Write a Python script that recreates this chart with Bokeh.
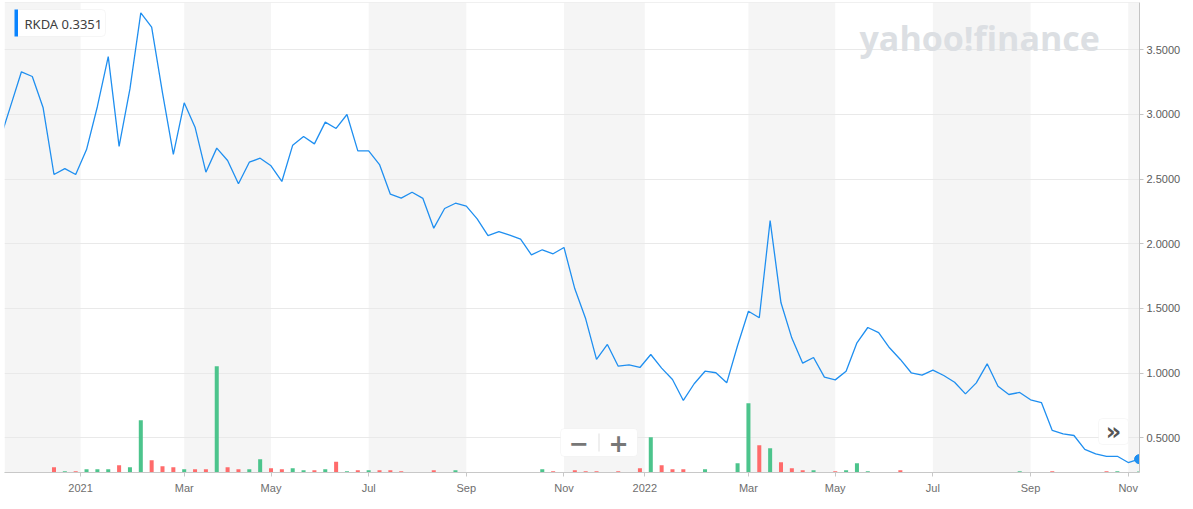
import numpy as np
import pandas as pd
from bokeh.plotting import figure
from bokeh.models import (Range1d, FixedTicker, BoxAnnotation, Label, Span,
                          NumeralTickFormatter, ColumnDataSource)
from bokeh.embed import file_html
from bokeh.resources import INLINE

# ---------------- data ----------------
symbol = "RKDA"
last_price_text = "0.3351"
watermark = "yahoo!finance"

# weekly bars (Monday dates)
dates = pd.date_range("2020-11-02", periods=106, freq="7D")

close = [
    2.80, 3.065, 3.330, 3.294, 3.052, 2.536, 2.582, 2.536, 2.729, 3.062,
    3.448, 2.753, 3.198, 3.786, 3.675, 3.168, 2.691, 3.090, 2.902, 2.554,
    2.740, 2.644, 2.464, 2.631, 2.662, 2.603, 2.482, 2.763, 2.830, 2.773,
    2.941, 2.892, 3.000, 2.719, 2.719, 2.613, 2.384, 2.353, 2.399, 2.351,
    2.121, 2.273, 2.314, 2.291, 2.193, 2.064, 2.095, 2.067, 2.036, 1.915,
    1.954, 1.923, 1.972, 1.652, 1.420, 1.106, 1.222, 1.054, 1.064, 1.044,
    1.144, 1.039, 0.951, 0.789, 0.918, 1.015, 1.003, 0.925, 1.214, 1.479,
    1.428, 2.180, 1.544, 1.271, 1.077, 1.121, 0.969, 0.948, 1.015, 1.235,
    1.353, 1.314, 1.196, 1.106, 1.003, 0.985, 1.023, 0.982, 0.930, 0.840,
    0.925, 1.072, 0.899, 0.835, 0.851, 0.794, 0.773, 0.557, 0.531, 0.518,
    0.410, 0.376, 0.356, 0.357, 0.309, 0.3351,
]

# weekly volume, thousands of shares
volume_k = [
    60, 80, 80, 80, 80, 800, 200, 200, 500, 500,
    500, 1100, 800, 7850, 1850, 950, 800, 500, 500, 500,
    15950, 800, 500, 500, 2000, 650, 500, 650, 350, 350,
    500, 1600, 200, 350, 350, 350, 350, 200, 80, 80,
    350, 80, 350, 80, 80, 80, 80, 80, 80, 80,
    500, 200, 80, 350, 200, 200, 80, 200, 80, 650,
    5300, 1100, 500, 500, 80, 500, 80, 80, 1400, 10400,
    4100, 3650, 1550, 650, 350, 350, 80, 200, 350, 1400,
    200, 80, 80, 350, 80, 80, 80, 80, 80, 80,
    80, 80, 80, 80, 200, 80, 80, 200, 80, 80,
    80, 80, 200, 200, 80, 149.39,
]

price_ticks = [0.5, 1.0, 1.5, 2.0, 2.5, 3.0, 3.5]

# ---------------- layout mapping ----------------
LEFT, TOP = 4, 2
FRAME_W, FRAME_H = 1135, 470
X_START, X_END = 0.4389, 105.04
Y_START, Y_END = 0.2318, 3.866
VOL_TOP = FRAME_H * 150.0


def px_x(px):
    return X_START + (px - LEFT) / FRAME_W * (X_END - X_START)


def px_y(py):
    return Y_END - (py - TOP) / FRAME_H * (Y_END - Y_START)


x = np.arange(len(dates))

GREEN = "#4cc48c"
RED = "#ff6b6b"
colors = [GREEN] + [GREEN if close[i] >= close[i - 1] else RED for i in range(1, len(close))]

src = ColumnDataSource(dict(x=x, close=close, vol=volume_k, color=colors))

# ---------------- ticks (bar containing 1st of odd months) ----------------
ticks, tick_months, overrides = [], [], {}
for i, d in enumerate(dates):
    for off in range(7):
        dd = d + pd.Timedelta(days=off)
        if dd.day == 1 and dd.month % 2 == 1:
            if dd.month == 1:
                t = round(i - 0.55, 2)
                overrides[t] = str(dd.year)
            else:
                t = int(i)
                overrides[t] = dd.strftime("%b")
            ticks.append(t)
            tick_months.append(dd.month)

# ---------------- figure ----------------
p = figure(frame_width=FRAME_W, frame_height=FRAME_H,
           x_range=Range1d(X_START, X_END), y_range=Range1d(Y_START, Y_END),
           y_axis_location="right", output_backend="svg", toolbar_location=None,
           min_border_left=LEFT, min_border_top=TOP, min_border_right=0, min_border_bottom=0,
           background_fill_color="white", border_fill_color="white")
p.outline_line_color = None
p.extra_y_ranges = {"vol": Range1d(0, VOL_TOP)}

# alternating two-month bands
band_edges = [X_START] + ticks + [X_END]
band_gray = [True] + [m in (3, 7, 11) for m in tick_months]
for a, b, g in zip(band_edges[:-1], band_edges[1:], band_gray):
    if g:
        p.add_layout(BoxAnnotation(left=a, right=b, fill_color="#f5f5f5", fill_alpha=1,
                                   line_color=None, level="image"))

p.add_layout(Span(location=Y_END, dimension="width", line_color="#e2e2e2", line_width=1))

# grid
p.xgrid.grid_line_color = None
p.ygrid.ticker = FixedTicker(ticks=price_ticks)
p.ygrid.grid_line_color = "#e9e9e9"

# y axis (right)
p.yaxis.ticker = FixedTicker(ticks=price_ticks)
p.yaxis.formatter = NumeralTickFormatter(format="0.0000")
p.yaxis.major_label_text_font = "Liberation Sans"
p.yaxis.major_label_text_font_size = "11px"
p.yaxis.major_label_text_color = "#5c5c5c"
p.yaxis.axis_line_color = "#c4c4c4"
p.yaxis.major_tick_line_color = "#c4c4c4"
p.yaxis.major_tick_out = 4
p.yaxis.major_tick_in = 0
p.yaxis.minor_tick_line_color = None
p.yaxis.major_label_standoff = 3

# x axis
p.xaxis.ticker = FixedTicker(ticks=ticks)
p.xaxis.major_label_overrides = overrides
p.xaxis.major_label_text_font = "Liberation Sans"
p.xaxis.major_label_text_font_size = "11px"
p.xaxis.major_label_text_color = "#6e6e6e"
p.xaxis.axis_line_color = "#c8c8c8"
p.xaxis.major_tick_line_color = "#c8c8c8"
p.xaxis.major_tick_out = 4
p.xaxis.major_tick_in = 0
p.xaxis.minor_tick_line_color = None
p.xaxis.major_label_standoff = 5

# volume bars
p.vbar(x="x", top="vol", bottom=0, width=0.37, fill_color="color", line_color=None,
       y_range_name="vol", source=src)

# price line
p.line("x", "close", source=src, line_color="#1f8ff0", line_width=1.3)
p.scatter([x[-1]], [close[-1]], size=9, fill_color="#1f8ff0", line_color="#1f8ff0")

# watermark
p.add_layout(Label(x=px_x(859), y=px_y(37), text=watermark, text_font="Open Sans",
                   text_font_style="bold", text_font_size="34px", text_color="#dcdfe3",
                   text_baseline="alphabetic"))

# legend box
p.add_layout(BoxAnnotation(left=px_x(14), right=px_x(105), top=px_y(9), bottom=px_y(36),
                           fill_color="white", fill_alpha=1, line_color="#e0e0e0",
                           border_radius=4, level="overlay"))
p.add_layout(BoxAnnotation(left=px_x(14), right=px_x(17.5), top=px_y(9), bottom=px_y(36),
                           fill_color="#0a84ff", fill_alpha=1, line_color=None, level="overlay"))
p.add_layout(Label(x=px_x(24), y=px_y(23), text=f"{symbol}  {last_price_text}",
                   text_font="Noto Sans", text_font_size="13px", text_color="#404040",
                   text_baseline="middle", level="overlay"))

# zoom control
p.add_layout(BoxAnnotation(left=px_x(560), right=px_x(637), top=px_y(428), bottom=px_y(456),
                           fill_color="white", fill_alpha=1, line_color="#e3e3e3",
                           border_radius=4, level="overlay"))
p.add_layout(BoxAnnotation(left=px_x(598), right=px_x(599), top=px_y(433), bottom=px_y(451),
                           fill_color="#e0e0e0", fill_alpha=1, line_color=None, level="overlay"))
p.add_layout(Label(x=px_x(578), y=px_y(442), text="\u2212", text_align="center",
                   text_baseline="middle", text_font="DejaVu Sans", text_font_style="bold",
                   text_font_size="24px", text_color="#777777", level="overlay"))
p.add_layout(Label(x=px_x(618), y=px_y(442), text="+", text_align="center",
                   text_baseline="middle", text_font="DejaVu Sans", text_font_style="bold",
                   text_font_size="24px", text_color="#777777", level="overlay"))

# ">>" button
p.add_layout(BoxAnnotation(left=px_x(1098), right=px_x(1128), top=px_y(418), bottom=px_y(444),
                           fill_color="white", fill_alpha=1, line_color="#e3e3e3",
                           border_radius=4, level="overlay"))
p.add_layout(Label(x=px_x(1113), y=px_y(431), text="\u00bb", text_align="center",
                   text_baseline="middle", text_font="DejaVu Sans", text_font_style="bold",
                   text_font_size="24px", text_color="#555555", level="overlay"))

open("out.html", "w").write(file_html(p, INLINE))
